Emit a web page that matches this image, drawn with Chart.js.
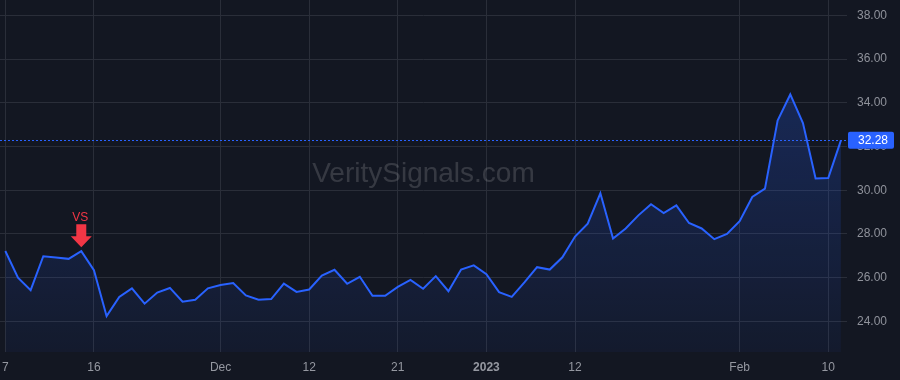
<!DOCTYPE html>
<html>
<head>
<meta charset="utf-8">
<script src="https://cdn.jsdelivr.net/npm/chart.js@4"></script>
<style>
  html, body { margin: 0; padding: 0; background: #131722; }
  #wrap { width: 900px; height: 380px; }
</style>
</head>
<body>
<div id="wrap"><canvas id="priceChart"></canvas></div>
<script>
// trading days, Nov 7 2022 - Feb 13 2023
const dates = [
  '2022-11-07','2022-11-08','2022-11-09','2022-11-10','2022-11-11','2022-11-14','2022-11-15','2022-11-16',
  '2022-11-17','2022-11-18','2022-11-21','2022-11-22','2022-11-23','2022-11-25','2022-11-28','2022-11-29',
  '2022-11-30','2022-12-01','2022-12-02','2022-12-05','2022-12-06','2022-12-07','2022-12-08','2022-12-09',
  '2022-12-12','2022-12-13','2022-12-14','2022-12-15','2022-12-16','2022-12-19','2022-12-20','2022-12-21',
  '2022-12-22','2022-12-23','2022-12-27','2022-12-28','2022-12-29','2022-12-30','2023-01-03','2023-01-04',
  '2023-01-05','2023-01-06','2023-01-09','2023-01-10','2023-01-11','2023-01-12','2023-01-13','2023-01-17',
  '2023-01-18','2023-01-19','2023-01-20','2023-01-23','2023-01-24','2023-01-25','2023-01-26','2023-01-27',
  '2023-01-30','2023-01-31','2023-02-01','2023-02-02','2023-02-03','2023-02-06','2023-02-07','2023-02-08',
  '2023-02-09','2023-02-10','2023-02-13'
];

const closes = [
  27.22, 26.00, 25.43, 26.98, 26.92, 26.86, 27.21, 26.34,
  24.24, 25.12, 25.51, 24.81, 25.32, 25.53, 24.90, 24.99,
  25.51, 25.66, 25.75, 25.19, 24.99, 25.02, 25.73, 25.35,
  25.46, 26.10, 26.36, 25.72, 26.04, 25.17, 25.17, 25.58,
  25.90, 25.49, 26.07, 25.38, 26.37, 26.56, 26.16, 25.34,
  25.12, 25.78, 26.48, 26.37, 26.93, 27.88, 28.47, 29.86,
  27.79, 28.25, 28.85, 29.36, 28.95, 29.31, 28.50, 28.25,
  27.76, 28.00, 28.58, 29.69, 30.07, 33.19, 34.38, 33.07,
  30.54, 30.56, 32.28
];

const tickDates = ['2022-11-07','2022-11-16','2022-12-01','2022-12-12','2022-12-21','2023-01-03','2023-01-12','2023-02-01','2023-02-10'];
const tickLabels = ['7','16','Dec','12','21','2023','12','Feb','10'];

const priceTicks = [24, 26, 28, 30, 32, 34, 36, 38];

const signalDates = ['2022-11-15'];
const signalTexts = ['VS'];

const lastPrice = closes[closes.length - 1];

const FONT = "'Liberation Sans', Arial, sans-serif";
const BLUE = '#2962ff';
const RED = '#f23645';

const watermark = {
  id: 'watermark',
  beforeDatasetsDraw(chart) {
    const { ctx, chartArea } = chart;
    ctx.save();
    ctx.font = '28px ' + FONT;
    ctx.fillStyle = 'rgba(255,255,255,0.15)';
    ctx.textAlign = 'center';
    ctx.textBaseline = 'alphabetic';
    ctx.fillText('VeritySignals.com', (chartArea.left + chartArea.right) / 2, 182);
    ctx.restore();
  }
};

const overlays = {
  id: 'overlays',
  afterDatasetsDraw(chart) {
    const { ctx, chartArea, scales } = chart;
    const x = scales.x, y = scales.y;
    ctx.save();

    // last price dotted line
    const ly = Math.round(y.getPixelForValue(lastPrice)) + 0.5;
    ctx.strokeStyle = BLUE;
    ctx.lineWidth = 1;
    ctx.setLineDash([2, 2]);
    ctx.beginPath();
    ctx.moveTo(chartArea.left, ly);
    ctx.lineTo(chartArea.right, ly);
    ctx.stroke();
    ctx.setLineDash([]);

    // signal arrows
    signalDates.forEach((d, k) => {
      const i = dates.indexOf(d);
      const px = x.getPixelForValue(i);
      const py = y.getPixelForValue(closes[i]);
      ctx.fillStyle = RED;
      ctx.beginPath();
      ctx.moveTo(px - 5, py - 27);
      ctx.lineTo(px + 5, py - 27);
      ctx.lineTo(px + 5, py - 15);
      ctx.lineTo(px + 10.5, py - 15);
      ctx.lineTo(px, py - 4);
      ctx.lineTo(px - 10.5, py - 15);
      ctx.lineTo(px - 5, py - 15);
      ctx.closePath();
      ctx.fill();
      ctx.font = '12px ' + FONT;
      ctx.textAlign = 'center';
      ctx.textBaseline = 'middle';
      ctx.fillText(signalTexts[k], px - 1, py - 34);
    });
    ctx.restore();
  },
  afterDraw(chart) {
    const { ctx, chartArea, scales } = chart;
    const ly = scales.y.getPixelForValue(lastPrice);
    ctx.save();
    ctx.fillStyle = BLUE;
    ctx.beginPath();
    ctx.roundRect(chartArea.right + 1, ly - 8.5, 46, 17, 2);
    ctx.fill();
    ctx.fillStyle = '#ffffff';
    ctx.font = '12px ' + FONT;
    ctx.textAlign = 'left';
    ctx.textBaseline = 'middle';
    ctx.fillText(lastPrice.toFixed(2), chartArea.right + 11, ly + 0.5);
    ctx.restore();
  }
};

const ctx = document.getElementById('priceChart').getContext('2d');

new Chart(ctx, {
  type: 'line',
  data: {
    datasets: [{
      label: 'Close',
      data: closes.map((v, i) => ({ x: i, y: v })),
      borderColor: BLUE,
      borderWidth: 2,
      pointRadius: 0,
      tension: 0,
      fill: 'start',
      backgroundColor: (c) => {
        const area = c.chart.chartArea;
        if (!area) return 'rgba(41,98,255,0.1)';
        const g = c.chart.ctx.createLinearGradient(0, area.top, 0, area.bottom);
        g.addColorStop(0, 'rgba(41,98,255,0.30)');
        g.addColorStop(1, 'rgba(41,98,255,0.05)');
        return g;
      }
    }]
  },
  options: {
    responsive: true,
    maintainAspectRatio: false,
    animation: false,
    layout: { padding: 0 },
    plugins: {
      legend: { display: false },
      tooltip: { enabled: false }
    },
    scales: {
      x: {
        type: 'linear',
        min: -0.42,
        max: 66.48,
        afterBuildTicks: (axis) => {
          axis.ticks = tickDates.map(d => ({ value: dates.indexOf(d) }));
        },
        afterFit: (axis) => {
          axis.height = 28;
          axis.paddingLeft = 0;
          axis.paddingRight = 0;
        },
        grid: { color: '#2a2e39', drawTicks: false },
        border: { display: false },
        ticks: {
          autoSkip: false,
          maxRotation: 0,
          padding: 8,
          color: '#9598a1',
          font: (c) => ({
            family: FONT,
            size: 12,
            weight: c.tick && c.tick.label === '2023' ? 'bold' : 'normal'
          }),
          callback: (v) => tickLabels[tickDates.indexOf(dates[v])]
        }
      },
      y: {
        position: 'right',
        min: 22.6,
        max: 38.7,
        afterBuildTicks: (axis) => {
          axis.ticks = priceTicks.map(v => ({ value: v }));
        },
        afterFit: (axis) => {
          axis.width = 53;
          axis.paddingTop = 0;
          axis.paddingBottom = 0;
        },
        grid: { color: '#2a2e39', drawTicks: false },
        border: { display: false },
        ticks: {
          padding: 10,
          color: '#8f929b',
          font: { family: FONT, size: 12 },
          callback: (v) => v.toFixed(2)
        }
      }
    }
  },
  plugins: [watermark, overlays]
});
</script>
</body>
</html>
